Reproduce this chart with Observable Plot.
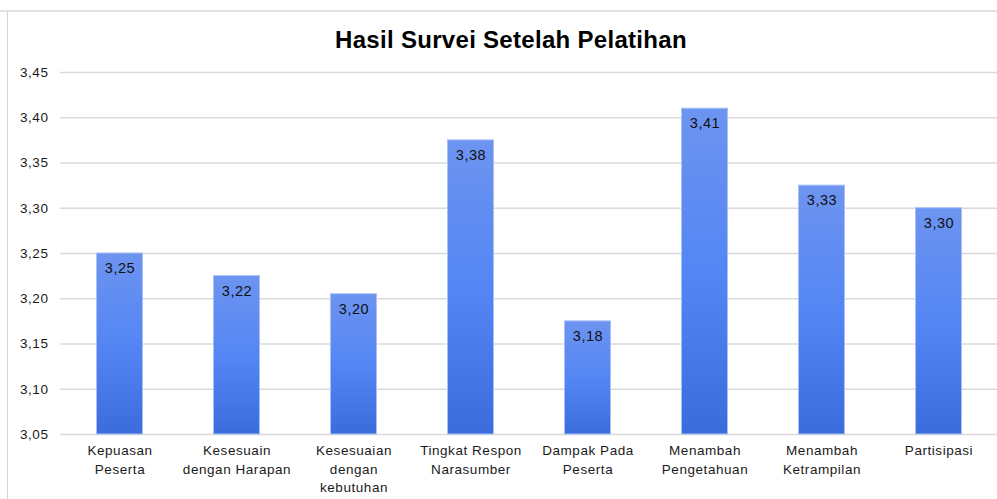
<!DOCTYPE html>
<html>
<head>
<meta charset="utf-8">
<script src="https://cdn.jsdelivr.net/npm/d3@7"></script>
<script src="https://cdn.jsdelivr.net/npm/@observablehq/plot@0.6"></script>
<style>
  html, body { margin: 0; padding: 0; background: #fff; }
  body { width: 997px; height: 499px; overflow: hidden; position: relative; font-family: "Liberation Sans", Arial, sans-serif; }
  #topline { position: absolute; left: 0; top: 10px; width: 997px; height: 2px; background: #e2e2e2; }
  #leftline { position: absolute; left: 7px; top: 12px; width: 1px; height: 487px; background: #d4d4d4; }
  #title { position: absolute; left: 0; top: 0; width: 1022px; height: 60px; text-align: center; font-weight: bold; font-size: 24px; letter-spacing: 0.3px; line-height: 24px; padding-top: 28px; box-sizing: border-box; color: #000; }
  #chart { position: absolute; left: 0; top: 60px; }
  #chart text { letter-spacing: 0.55px; }
</style>
</head>
<body>
<div id="topline"></div>
<div id="leftline"></div>
<div id="title">Hasil Survei Setelah Pelatihan</div>
<div id="chart"></div>
<script>
const categories = [
  "Kepuasan\nPeserta",
  "Kesesuain\ndengan Harapan",
  "Kesesuaian\ndengan\nkebutuhan",
  "Tingkat Respon\nNarasumber",
  "Dampak Pada\nPeserta",
  "Menambah\nPengetahuan",
  "Menambah\nKetrampilan",
  "Partisipasi"
];
const values = [3.25, 3.225, 3.205, 3.375, 3.175, 3.41, 3.325, 3.30];
const valueLabels = ["3,25", "3,22", "3,20", "3,38", "3,18", "3,41", "3,33", "3,30"];
const yTicks = [3.05, 3.10, 3.15, 3.20, 3.25, 3.30, 3.35, 3.40, 3.45];

const data = categories.map((c, i) => ({cat: c, value: values[i], label: valueLabels[i]}));

const chart = Plot.plot({
  width: 997,
  height: 439,
  marginTop: 12,
  marginBottom: 65,
  marginLeft: 60,
  marginRight: 0,
  style: {fontFamily: "'Liberation Sans', Arial, sans-serif", background: "transparent", color: "#1a1a1a"},
  x: {domain: categories, padding: 0, axis: null},
  y: {domain: [3.05, 3.45], axis: null},
  marks: [
    Plot.ruleY(yTicks, {stroke: "#dadada", strokeWidth: 1.6}),
    Plot.text(yTicks, {
      y: d => d,
      frameAnchor: "left",
      dx: -12,
      textAnchor: "end",
      text: d => d.toFixed(2).replace(".", ","),
      fontSize: 13.5,
      fill: "#1a1a1a"
    }),
    Plot.barY(data, {
      x: "cat",
      y1: 3.05,
      y2: "value",
      insetLeft: 35.5,
      insetRight: 35.5,
      fill: "url(#barGrad)",
      stroke: "#a9c0f6",
      strokeWidth: 1
    }),
    Plot.text(data, {
      x: "cat",
      y: "value",
      text: "label",
      dy: 15,
      fontSize: 14.5,
      fill: "#111"
    }),
    Plot.text(data, {
      x: "cat",
      text: "cat",
      frameAnchor: "bottom",
      lineAnchor: "top",
      dy: 8,
      lineHeight: 1.35,
      fontSize: 13.5,
      fill: "#1a1a1a"
    })
  ]
});

const ns = "http://www.w3.org/2000/svg";
const defs = document.createElementNS(ns, "defs");
const grad = document.createElementNS(ns, "linearGradient");
grad.setAttribute("id", "barGrad");
grad.setAttribute("x1", "0"); grad.setAttribute("y1", "0");
grad.setAttribute("x2", "0"); grad.setAttribute("y2", "1");
[["0%", "#6d94f0"], ["50%", "#5486f4"], ["100%", "#3b6cdc"]].forEach(([o, c]) => {
  const s = document.createElementNS(ns, "stop");
  s.setAttribute("offset", o);
  s.setAttribute("stop-color", c);
  grad.appendChild(s);
});
defs.appendChild(grad);
chart.insertBefore(defs, chart.firstChild);
document.getElementById("chart").appendChild(chart);
</script>
</body>
</html>
